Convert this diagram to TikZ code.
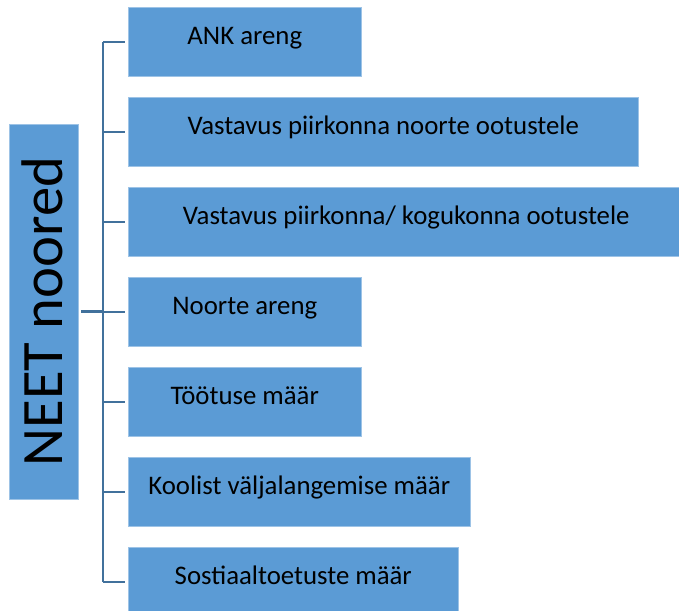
\documentclass[tikz,border=0pt]{standalone}
\usepackage{fontspec}
\setmainfont{Carlito}
\usetikzlibrary{positioning}

\definecolor{boxblue}{HTML}{5B9BD5}
\definecolor{edgeblue}{HTML}{9DC3E6}
\definecolor{linkblue}{HTML}{41719C}

\begin{document}
\begin{tikzpicture}[x=1pt,y=-1pt,
  leaf/.style={draw=edgeblue,line width=0.6pt,fill=boxblue,anchor=north west,
    inner sep=0pt,minimum height=69pt,text height=17pt,text depth=10.8pt,
    font=\fontsize{26.8}{32}\selectfont},
  link/.style={draw=linkblue,line width=2pt}]

\useasboundingbox (0,0) rectangle (679,610);

% root box
\node[draw=edgeblue,line width=0.6pt,fill=boxblue,rotate=90,inner sep=0pt,
  minimum width=375pt,minimum height=69pt,text height=43pt,text depth=5.2pt,
  font=\fontsize{58.7}{62}\selectfont] (neet) at (43.5,311.5) {NEET noored};

% leaves
\node[leaf,minimum width=233pt] (ank)      at (128,7)   {ANK areng};
\node[leaf,minimum width=510pt] (vnoored)  at (128,97)  {Vastavus piirkonna noorte ootustele};
\node[leaf,minimum width=556pt] (vkogu)    at (128,187) {Vastavus piirkonna/ kogukonna ootustele};
\node[leaf,minimum width=233pt] (areng)    at (128,277) {Noorte areng};
\node[leaf,minimum width=233pt] (tootus)   at (128,367) {Töötuse määr};
\node[leaf,minimum width=342pt] (koolist)  at (128,457) {Koolist väljalangemise määr};
\node[leaf,minimum width=330pt] (sostiaal) at (128,547) {Sostiaaltoetuste määr};

\coordinate (fork) at (103,311.5);

% connectors
\draw[link,line width=3pt,shorten <=3pt] (neet.south) -- (fork);
\draw[link] (ank.west -| fork) -- (sostiaal.west -| fork);
\foreach \n in {ank,vnoored,vkogu,areng,tootus,koolist,sostiaal}
  \draw[link,shorten >=3pt] (\n.west -| fork) -- (\n.west);

\end{tikzpicture}
\end{document}
